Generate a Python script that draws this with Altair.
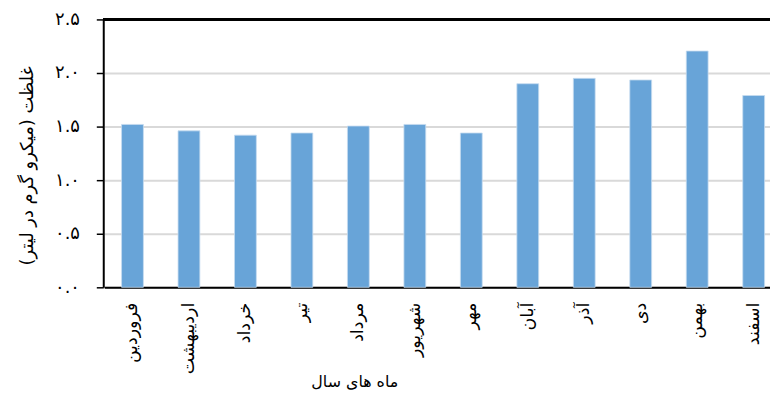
import altair as alt
import pandas as pd

months = ["فروردین", "اردیبهشت", "خرداد", "تیر", "مرداد", "شهریور",
          "مهر", "آبان", "آذر", "دی", "بهمن", "اسفند"]
values = [1.52, 1.46, 1.42, 1.44, 1.505, 1.52, 1.44, 1.90, 1.95, 1.935, 2.205, 1.79]
y_ticks = [0, 0.5, 1.0, 1.5, 2.0, 2.5]
y_tick_labels = ["۰.۰", "۰.۵", "۱.۰", "۱.۵", "۲.۰", "۲.۵"]
y_title = "غلظت (میکرو گرم در لیتر)"
x_title = "ماه های سال"

df = pd.DataFrame({"month": months, "value": values})

label_expr = " : ".join(
    f"datum.value == {v} ? '{l}'" for v, l in zip(y_ticks, y_tick_labels)
) + " : ''"

FONT = "DejaVu Sans"

bars = alt.Chart(df).mark_bar(
    size=22, color="#68a4d8", stroke="#c6dcf0", strokeWidth=0.8
).encode(
    x=alt.X(
        "month:N", sort=months,
        scale=alt.Scale(range=[1, 684], paddingInner=0, paddingOuter=0),
        axis=alt.Axis(
            title=x_title, labelAngle=270, labelAlign="right", labelBaseline="middle",
            labelPadding=15, ticks=False, domainColor="black", domainWidth=2,
            labelFont=FONT, labelFontSize=17.5, labelColor="black", labelLimit=200,
            titleFont=FONT, titleFontSize=16, titleFontWeight="normal", titleColor="black",
            titleX=253, titleY=95, titleBaseline="middle", titleAnchor="middle",
            titleAlign="center",
        ),
    ),
    y=alt.Y(
        "value:Q",
        scale=alt.Scale(domain=[0, 2.5], nice=False),
        axis=alt.Axis(
            title=y_title, values=y_ticks, labelExpr=label_expr,
            domainColor="black", domainWidth=2,
            tickColor="black", tickWidth=1.5, tickSize=7,
            gridColor="#d9d9d9", gridWidth=2,
            labelFont=FONT, labelFontSize=18, labelColor="black", labelPadding=17,
            titleFont=FONT, titleFontSize=18, titleFontWeight="normal", titleColor="black",
            titleAngle=270, titleX=-76, titleY=147, titleBaseline="middle",
            titleAlign="center",
        ),
    ),
)

top_rule = alt.Chart(df).mark_rule(color="black", strokeWidth=2).encode(
    y=alt.datum(2.5)
)

chart = alt.layer(bars, top_rule).properties(
    width=672, height=270,
    autosize=alt.AutoSizeParams(type="none"),
    padding={"left": 96, "top": 10, "right": 0, "bottom": 106},
).configure_view(stroke=None).configure(background="white")

chart.save("out.html", embed_options={"renderer": "svg", "actions": False})
